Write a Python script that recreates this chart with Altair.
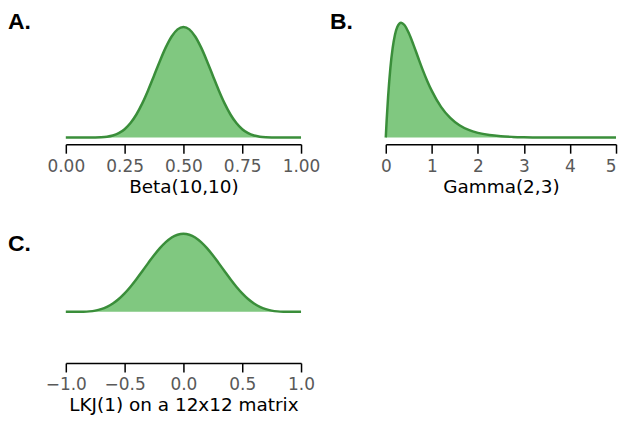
import altair as alt
import pandas as pd

# ---- Panel A: Beta(10,10) density ----
beta_x = [0.0, 0.025, 0.05, 0.075, 0.1, 0.125, 0.15, 0.175, 0.2, 0.225, 0.25,
          0.275, 0.3, 0.325, 0.35, 0.375, 0.4, 0.425, 0.45, 0.475, 0.5,
          0.525, 0.55, 0.575, 0.6, 0.625, 0.65, 0.675, 0.7, 0.725, 0.75,
          0.775, 0.8, 0.825, 0.85, 0.875, 0.9, 0.925, 0.95, 0.975, 1.0]
beta_y = [0.0, 0.0, 0.0, 0.00002, 0.0004, 0.0021, 0.0082, 0.0252, 0.0635, 0.1377, 0.2646,
          0.460, 0.734, 1.087, 1.508, 1.971, 2.440, 2.871, 3.219, 3.446, 3.524,
          3.446, 3.219, 2.871, 2.440, 1.971, 1.508, 1.087, 0.734, 0.460, 0.2646,
          0.1377, 0.0635, 0.0252, 0.0082, 0.0021, 0.0004, 0.00002, 0.0, 0.0, 0.0]

# ---- Panel B: Gamma(2,3) density ----
gamma_x = [0.0, 0.02, 0.05, 0.1, 0.15, 0.2, 0.25, 0.333, 0.4, 0.5, 0.6, 0.7, 0.8,
           0.9, 1.0, 1.2, 1.4, 1.6, 1.8, 2.0, 2.25, 2.5, 2.75, 3.0, 3.5, 4.0, 4.5, 5.0]
gamma_y = [0.0, 0.170, 0.387, 0.667, 0.861, 0.988, 1.063, 1.104, 1.084, 1.004, 0.893,
           0.772, 0.653, 0.544, 0.448, 0.295, 0.189, 0.1185, 0.0732, 0.0446, 0.0237,
           0.0124, 0.0065, 0.0033, 0.0009, 0.0002, 0.00005, 0.00001]

# ---- Panel C: LKJ(1) marginal on a 12x12 matrix ----
lkj_x = [-1.0, -0.95, -0.9, -0.85, -0.8, -0.75, -0.7, -0.65, -0.6, -0.55, -0.5,
         -0.45, -0.4, -0.35, -0.3, -0.25, -0.2, -0.15, -0.1, -0.05, 0.0,
         0.05, 0.1, 0.15, 0.2, 0.25, 0.3, 0.35, 0.4, 0.45, 0.5,
         0.55, 0.6, 0.65, 0.7, 0.75, 0.8, 0.85, 0.9, 0.95, 1.0]
lkj_y = [0.0, 0.0, 0.0003, 0.0022, 0.0082, 0.0217, 0.0467, 0.0869, 0.145, 0.223, 0.321,
         0.436, 0.566, 0.704, 0.844, 0.980, 1.103, 1.207, 1.287, 1.336, 1.353,
         1.336, 1.287, 1.207, 1.103, 0.980, 0.844, 0.704, 0.566, 0.436, 0.321,
         0.223, 0.145, 0.0869, 0.0467, 0.0217, 0.0082, 0.0022, 0.0003, 0.0, 0.0]

beta_ticks = [0.0, 0.25, 0.5, 0.75, 1.0]
gamma_ticks = [0, 1, 2, 3, 4, 5]
lkj_ticks = [-1.0, -0.5, 0.0, 0.5, 1.0]

FILL = "#80c880"
LINE = "#3a8e3a"


def panel(xs, ys, xdom, ydom, ticks, fmt, title, label, w, h, lab_x, lab_y,
          last_right=False):
    df = pd.DataFrame({"x": xs, "y": ys})
    axis_kw = dict(values=ticks, format=fmt, title=title)
    if last_right:
        axis_kw["labelAlign"] = {"condition": {"test": f"datum.value == {ticks[-1]}",
                                               "value": "right"},
                                 "value": "center"}
    xenc = alt.X("x:Q", scale=alt.Scale(domain=xdom, nice=False, zero=False),
                 axis=alt.Axis(**axis_kw))
    yenc = alt.Y("y:Q", scale=alt.Scale(domain=ydom, nice=False, zero=False), axis=None)
    base = alt.Chart(df)
    area = base.mark_area(color=FILL, interpolate="monotone", opacity=1).encode(
        x=xenc, y=yenc, y2=alt.datum(0))
    line = base.mark_line(color=LINE, strokeWidth=2.5, interpolate="monotone").encode(
        x=xenc, y=yenc)
    lab = alt.Chart(pd.DataFrame({"t": [label]})).mark_text(
        font="Liberation Sans", fontSize=23, fontWeight="bold", color="black",
        align="left", baseline="alphabetic").encode(
        text="t:N", x=alt.value(lab_x), y=alt.value(lab_y))
    return alt.layer(area, line, lab).properties(width=w, height=h)


A = panel(beta_x, beta_y, [0, 1], [-0.213, 3.756], beta_ticks, ".2f",
          "Beta(10,10)", "A.", 236, 125, -58, 9)
B = panel(gamma_x, gamma_y, [0, 5], [-0.064, 1.133], gamma_ticks, "d",
          "Gamma(2,3)", "B.", 231, 125, -56, 9, last_right=True)
C = panel(lkj_x, lkj_y, [-1, 1], [-0.886, 1.393], lkj_ticks, ".1f",
          "LKJ(1) on a 12x12 matrix", "C.", 236, 132, -58, 19.7)

top = alt.hconcat(A, B, spacing=10)
chart = alt.vconcat(top, C, spacing=32.5).properties(
    padding={"left": 0, "top": 2, "right": 0, "bottom": 0}
).configure_view(stroke=None).configure_axis(
    grid=False,
    domainColor="black", domainWidth=1.5,
    tickColor="black", tickWidth=1.5, tickSize=9,
    labelColor="#595959", labelFont="DejaVu Sans", labelFontSize=17,
    labelPadding=5, labelFlush=False, labelOverlap=False, labelBound=False,
    titleColor="black", titleFont="DejaVu Sans", titleFontSize=18.5,
    titleFontWeight="normal", titlePadding=3,
)

chart.save("out.html", embed_options={"renderer": "svg", "actions": False})
